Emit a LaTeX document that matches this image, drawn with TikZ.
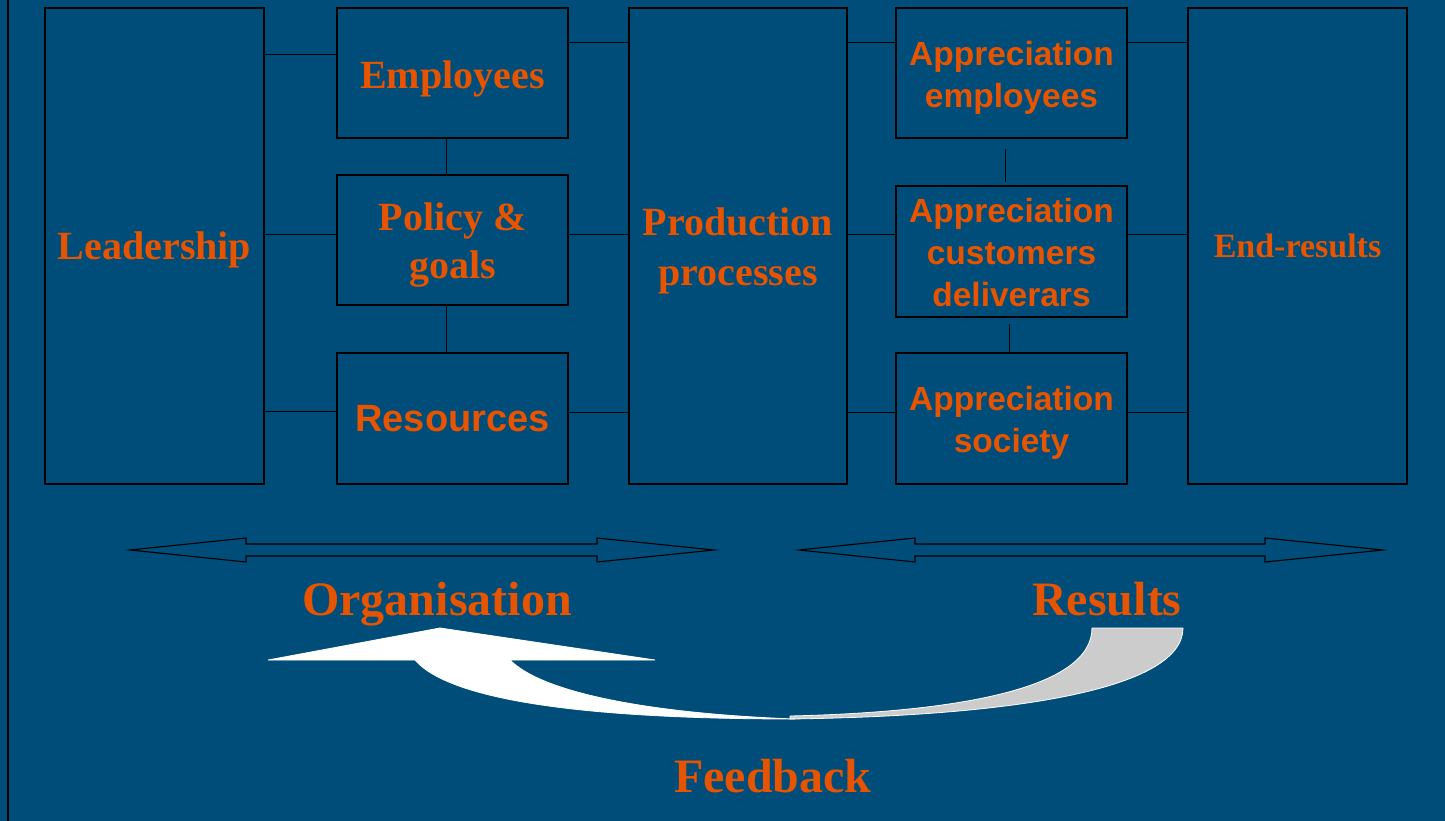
\documentclass[tikz,border=0pt]{standalone}
\usepackage{fontspec}
\setmainfont{Liberation Serif}
\setsansfont{Liberation Sans}
\definecolor{bg}{RGB}{0,77,122}
\definecolor{org}{RGB}{230,84,0}
\definecolor{backface}{RGB}{204,204,204}
\begin{document}
\begin{tikzpicture}[x=1pt,y=-1pt,
  box/.style={draw=black, line width=1.1pt, inner sep=0pt},
  txt/.style={inner sep=0pt, align=center, text=org},
  serifbig/.style={font=\bfseries\fontsize{40}{48}\selectfont},
  sansbig/.style={font=\sffamily\bfseries\fontsize{33.5}{42}\selectfont},
  conn/.style={draw=black, line width=1pt},
  dblarrow/.style={draw=black, line width=1.1pt, line join=miter},
  lbl/.style={text=org, inner sep=0pt, anchor=base, font=\bfseries\fontsize{48}{56}\selectfont}]
\fill[bg] (0,0) rectangle (1445,821);
\useasboundingbox (0,0) rectangle (1445,821);
\draw[black, line width=1.3pt] (8,0) -- (8,821);

% boxes
\node[box, minimum width=219pt, minimum height=476pt] (lead) at (154.5,246) {};
\node[box, minimum width=231pt, minimum height=130pt] (emp) at (452.5,73) {};
\node[box, minimum width=231pt, minimum height=130pt] (pol) at (452.5,240) {};
\node[box, minimum width=231pt, minimum height=131pt] (res) at (452.5,418.5) {};
\node[box, minimum width=218pt, minimum height=476pt] (prod) at (738,246) {};
\node[box, minimum width=231pt, minimum height=130pt] (ae) at (1011.5,73) {};
\node[box, minimum width=231pt, minimum height=131pt] (ac) at (1011.5,251.5) {};
\node[box, minimum width=231pt, minimum height=131pt] (asoc) at (1011.5,418.5) {};
\node[box, minimum width=219pt, minimum height=476pt] (endr) at (1297.5,246) {};

% box texts
\node[txt, serifbig] (lead-t) at ([yshift=-4pt]lead.center) {Leadership};
\node[txt, serifbig] (emp-t) at ([yshift=-6pt]emp.center) {Employees};
\node[txt, serifbig] (pol-t) at ([yshift=-5pt]pol.center) {Policy \&\\goals};
\node[txt, font=\sffamily\bfseries\fontsize{38}{44}\selectfont] (res-t) at (res.center) {Resources};
\node[txt, font=\bfseries\fontsize{40}{50}\selectfont] (prod-t) at ([yshift=-5pt]prod.center) {Production\\processes};
\node[txt, sansbig] (ae-t) at ([yshift=-5pt]ae.center) {Appreciation\\employees};
\node[txt, sansbig] (ac-t) at ([yshift=-1pt]ac.center) {Appreciation\\customers\\deliverars};
\node[txt, sansbig] (asoc-t) at ([yshift=-4pt]asoc.center) {Appreciation\\society};
\node[txt, font=\bfseries\fontsize{34}{40}\selectfont] (endr-t) at (endr.center) {End-results};

% connectors
\draw[conn] (lead.east |- 0,55) -- (emp.west |- 0,55);
\draw[conn] (lead.east |- 0,234) -- (pol.west |- 0,234);
\draw[conn] (lead.east |- 0,411) -- (res.west |- 0,411);
\draw[conn] (emp.south -| 446,0) -- (pol.north -| 446,0);
\draw[conn] (pol.south -| 446,0) -- (res.north -| 446,0);
\draw[conn] (emp.east |- 0,43) -- (prod.west |- 0,43);
\draw[conn] (pol.east |- 0,234) -- (prod.west |- 0,234);
\draw[conn] (res.east |- 0,412) -- (prod.west |- 0,412);
\draw[conn] (prod.east |- 0,43) -- (ae.west |- 0,43);
\draw[conn] (prod.east |- 0,234) -- (ac.west |- 0,234);
\draw[conn] (prod.east |- 0,412) -- (asoc.west |- 0,412);
\draw[conn] (ae.east |- 0,43) -- (endr.west |- 0,43);
\draw[conn] (ac.east |- 0,234) -- (endr.west |- 0,234);
\draw[conn] (asoc.east |- 0,412) -- (endr.west |- 0,412);
\draw[conn, shorten <=10pt, shorten >=3pt] (ae.south -| 1005,0) -- (ac.north -| 1005,0);
\draw[conn, shorten <=6pt, shorten >=-2pt] (ac.south -| 1009,0) -- (asoc.north -| 1009,0);

% double arrows
\draw[dblarrow] (130,550) -- (246,538) -- (246,544) -- (597,544) -- (597,538) -- (714,550)
  -- (597,562) -- (597,556) -- (246,556) -- (246,562) -- cycle;
\draw[dblarrow] (799,550) -- (915,538) -- (915,544) -- (1265,544) -- (1265,538) -- (1383,550)
  -- (1265,562) -- (1265,556) -- (915,556) -- (915,562) -- cycle;

% labels
\node[lbl] (orgl) at (437,615) {Organisation};
\node[lbl] (resl) at (1107,615) {Results};
\node[lbl] (feed) at (773,792) {Feedback};

% curved feedback arrow
\filldraw[fill=backface, draw=white, line width=0.8pt]
  (790,719) .. controls (1010,716) and (1183,690) .. (1183,628) -- (1092,628)
  .. controls (1092,688) and (960,712) .. (790,716) -- cycle;
\filldraw[fill=white, draw=white, line width=0.8pt]
  (415,660) .. controls (455,706) and (620,719) .. (795,719)
  .. controls (660,714) and (545,695) .. (510,660)
  -- (655,660) -- (440,628) -- (268,660) -- cycle;
\end{tikzpicture}
\end{document}
